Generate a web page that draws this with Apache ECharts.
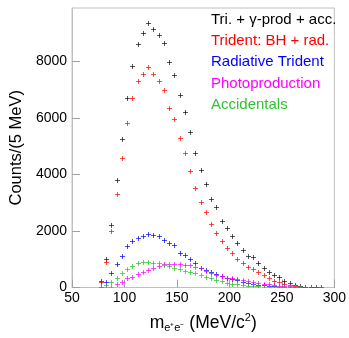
<!DOCTYPE html>
<html>
<head>
<meta charset="utf-8">
<script src="https://cdn.jsdelivr.net/npm/echarts@6/dist/echarts.min.js"></script>
<style>
html,body{margin:0;padding:0;background:#fff;}
#chart{width:349px;height:338px;}
</style>
</head>
<body>
<div id="chart"></div>
<script>
// bin centres (MeV/c^2), 5 MeV bins
const mass = [77.5,82.5,87.5,92.5,97.5,102.5,107.5,112.5,117.5,122.5,127.5,132.5,137.5,142.5,147.5,152.5,157.5,162.5,167.5,172.5,177.5,182.5,187.5,192.5,197.5,202.5,207.5,212.5,217.5,222.5,227.5,232.5,237.5,242.5,247.5,252.5,257.5,262.5,267.5,272.5,277.5,282.5,287.5];

const totalCounts = [230,990,2225,3800,5240,6710,7840,8594,8990,9350,9150,8940,8660,7960,7500,6800,6210,5485,4751,4146,3645,3121,2830,2364,2096,1806,1580,1330,1107,1080,873,705,550,425,361,233,160,100,60,35,20,10,5];
const tridentCounts = [200,885,1980,3310,4590,5800,6707,7301,7546,7800,7546,7290,6975,6330,5950,5298,4751,4134,3528,3035,2655,2230,1940,1640,1410,1210,1024,860,720,665,540,443,326,245,180,120,80,50,30,15,8,3,1];
const radiativeCounts = [30,210,500,828,1107,1467,1660,1740,1830,1890,1860,1817,1665,1583,1491,1210,1164,1005,860,685,617,535,478,419,326,303,260,210,160,140,100,80,60,40,30,20,12,8,5,3,2,1,0];
const photoCounts = [0,5,30,110,180,320,380,460,560,630,700,770,820,840,830,820,810,780,740,680,600,530,450,390,350,320,290,250,220,200,160,130,110,90,70,60,40,30,20,10,6,3,1];
const accidentalCounts = [30,100,210,350,500,650,770,850,885,905,880,850,810,760,700,650,600,550,500,450,380,330,270,220,170,140,110,90,70,55,40,30,20,15,10,5,3,2,1,0,0,0,0];

const xTicks = [50,100,150,200,250,300];
const yTicks = [0,2000,4000,6000,8000];

const legendNames = ['Tri. + \u03b3-prod + acc.','Trident: BH + rad.','Radiative Trident','Photoproduction','Accidentals'];
const seriesColors = ['rgba(0,0,0,0.65)','rgba(255,0,0,0.7)','rgba(0,0,255,0.7)','rgba(255,0,255,0.7)','rgba(40,190,40,0.7)'];
const legendColors = ['#000000','#ff0000','#0000ff','#ff00ff','#33c233'];
const allCounts = [totalCounts, tridentCounts, radiativeCounts, photoCounts, accidentalCounts];

const chart = echarts.init(document.getElementById('chart'));
const FONT = '"Liberation Sans", Arial, Helvetica, sans-serif';

function makeSeries(idx){
  const data = mass.map((m,i)=>[m, allCounts[idx][i]]);
  const col = seriesColors[idx];
  return {
    type:'custom',
    name: legendNames[idx],
    data: data,
    clip: true,
    renderItem: function(params, api){
      const p = api.coord([api.value(0), api.value(1)]);
      const x = Math.round(p[0]) + 0.5, y = Math.round(p[1]) + 0.5;
      return {
        type:'group',
        children:[
          {type:'line', shape:{x1:x-2.5,y1:y,x2:x+2.5,y2:y}, style:{stroke:col,lineWidth:1}},
          {type:'line', shape:{x1:x,y1:y-2.5,x2:x,y2:y+2.5}, style:{stroke:col,lineWidth:1}}
        ]
      };
    }
  };
}

const option = {
  animation:false,
  backgroundColor:'#fff',
  grid:{left:70,right:14,top:8,bottom:47,show:true,borderColor:'#c0c0c0',borderWidth:1,backgroundColor:'transparent'},
  xAxis:{
    type:'value', min:xTicks[0], max:xTicks[xTicks.length-1], interval:50,
    axisLine:{lineStyle:{color:'#c0c0c0'}},
    axisTick:{inside:true,length:8,lineStyle:{color:'#a0a0a0'}},
    splitLine:{show:false},
    axisLabel:{color:'#000',fontFamily:FONT,fontSize:14,margin:4},
    name:'{m|m}{s|e\u207ae\u207b}{t| (MeV/c}{p|2}{t|)}',
    nameLocation:'middle', nameGap:25,
    nameTextStyle:{
      rich:{
        m:{fontFamily:FONT,fontSize:17.5,color:'#000'},
        s:{fontFamily:FONT,fontSize:11,color:'#000',padding:[9,0,0,0]},
        t:{fontFamily:FONT,fontSize:17.5,color:'#000'},
        p:{fontFamily:FONT,fontSize:11,color:'#000',padding:[0,0,10,0]}
      }
    }
  },
  yAxis:{
    type:'value', min:yTicks[0], max:9880, interval:2000,
    axisLine:{lineStyle:{color:'#c0c0c0'}},
    axisTick:{inside:true,length:8,lineStyle:{color:'#a0a0a0'}},
    splitLine:{show:false},
    axisLabel:{color:'#000',fontFamily:FONT,fontSize:14,margin:5,showMaxLabel:false,
      formatter:function(v){return yTicks.indexOf(v)>=0?String(v):'';}},
    name:'Counts/(5 MeV)', nameLocation:'middle', nameGap:45,
    nameTextStyle:{fontFamily:FONT,fontSize:16.5,color:'#000'}
  },
  graphic: legendNames.map((n,i)=>({
    type:'text', left:211, top:12 + i*21.3,
    style:{text:n, fill:legendColors[i], font:'15px '+FONT}
  })),
  series:[0,1,2,3,4].map(makeSeries)
};
chart.setOption(option);
</script>
</body>
</html>
